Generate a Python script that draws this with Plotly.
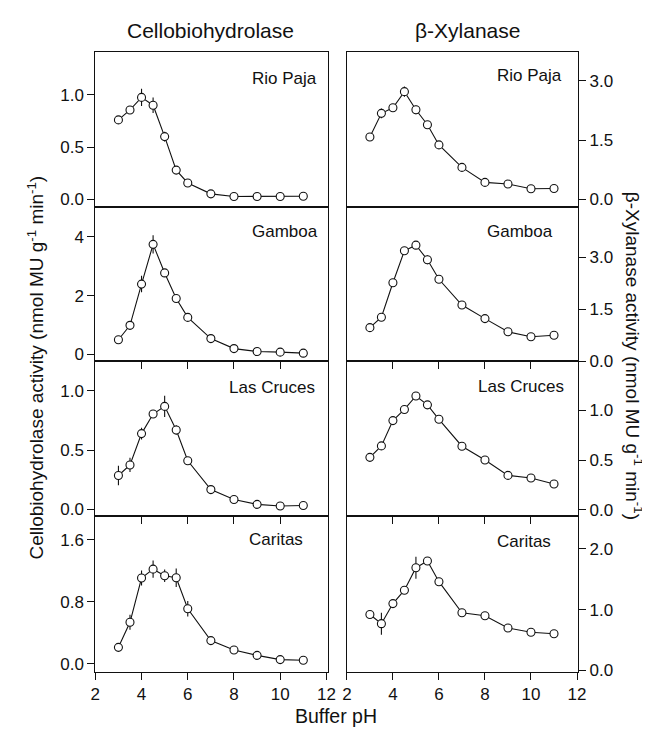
import plotly.graph_objects as go

W, H = 650, 732

ph = [3, 3.5, 4, 4.5, 5, 5.5, 6, 7, 8, 9, 10, 11]

sites = ["Rio Paja", "Gamboa", "Las Cruces", "Caritas"]

cbh_rio = [0.76, 0.855, 0.975, 0.90, 0.60, 0.28, 0.157, 0.053, 0.028, 0.028, 0.028, 0.03]
cbh_rio_err = [0.02, 0.03, 0.083, 0.075, 0.047, 0.02, 0.01, 0.005, 0, 0, 0, 0]
cbh_gam = [0.50, 0.99, 2.39, 3.74, 2.77, 1.90, 1.26, 0.54, 0.20, 0.10, 0.08, 0.045]
cbh_gam_err = [0.03, 0.05, 0.28, 0.31, 0.08, 0.1, 0.05, 0.03, 0.01, 0.01, 0.01, 0.01]
cbh_lc = [0.286, 0.375, 0.64, 0.805, 0.87, 0.67, 0.41, 0.167, 0.083, 0.042, 0.028, 0.033]
cbh_lc_err = [0.083, 0.06, 0.05, 0.03, 0.09, 0.04, 0.02, 0.01, 0.005, 0.005, 0.005, 0.005]
cbh_car = [0.213, 0.536, 1.106, 1.22, 1.136, 1.11, 0.71, 0.30, 0.179, 0.11, 0.055, 0.047]
cbh_car_err = [0.02, 0.096, 0.096, 0.11, 0.08, 0.12, 0.1, 0.02, 0.01, 0.01, 0.01, 0.01]

xyl_rio = [1.58, 2.18, 2.32, 2.73, 2.27, 1.89, 1.38, 0.81, 0.43, 0.39, 0.27, 0.275]
xyl_rio_err = [0.03, 0.125, 0.05, 0.13, 0.11, 0.05, 0.1, 0.03, 0.02, 0.02, 0.02, 0.02]
xyl_gam = [0.97, 1.27, 2.26, 3.18, 3.34, 2.92, 2.36, 1.62, 1.23, 0.85, 0.71, 0.75]
xyl_gam_err = [0.03, 0.03, 0.05, 0.09, 0.05, 0.13, 0.05, 0.03, 0.03, 0.02, 0.02, 0.02]
xyl_lc = [0.527, 0.642, 0.896, 1.008, 1.143, 1.054, 0.909, 0.639, 0.50, 0.346, 0.32, 0.26]
xyl_lc_err = [0.02, 0.02, 0.03, 0.03, 0.03, 0.03, 0.02, 0.02, 0.01, 0.01, 0.01, 0.01]
xyl_car = [0.92, 0.77, 1.10, 1.32, 1.69, 1.80, 1.46, 0.95, 0.90, 0.70, 0.63, 0.605]
xyl_car_err = [0.03, 0.18, 0.04, 0.06, 0.18, 0.04, 0.04, 0.03, 0.02, 0.02, 0.02, 0.02]

left_series = [(cbh_rio, cbh_rio_err), (cbh_gam, cbh_gam_err), (cbh_lc, cbh_lc_err), (cbh_car, cbh_car_err)]
right_series = [(xyl_rio, xyl_rio_err), (xyl_gam, xyl_gam_err), (xyl_lc, xyl_lc_err), (xyl_car, xyl_car_err)]

left_ranges = [[-0.075, 1.405], [-0.235, 5.0], [-0.056, 1.25], [-0.098, 1.905]]
right_ranges = [[-0.2, 3.725], [0.0, 4.43], [-0.061, 1.49], [-0.016, 2.54]]
left_ticks = [[0, 0.5, 1.0], [0, 2, 4], [0, 0.5, 1.0], [0, 0.8, 1.6]]
left_ticktext = [["0.0", "0.5", "1.0"], ["0", "2", "4"], ["0.0", "0.5", "1.0"], ["0.0", "0.8", "1.6"]]
right_ticks = [[0, 1.5, 3.0], [0, 1.5, 3.0], [0, 0.5, 1.0], [0, 1.0, 2.0]]
right_ticktext = [["0.0", "1.5", "3.0"], ["0.0", "1.5", "3.0"], ["0.0", "0.5", "1.0"], ["0.0", "1.0", "2.0"]]
x_ticks_bottom = [2, 4, 6, 8, 10, 12]
x_ticks_inner = [4, 6, 8, 10]

FONT = "Liberation Sans, Arial, Helvetica, sans-serif"
INK = "#111"

# panel geometry (pixels)
col_x = [(84, 321), (340.7, 576.7)]
row_y = [(45, 202), (202, 358.3), (358.3, 515), (515, 672.7)]

fig = go.Figure()
layout = dict(
    width=W, height=H,
    margin=dict(l=0, r=0, t=0, b=0),
    paper_bgcolor="white", plot_bgcolor="white",
    showlegend=False,
    font=dict(family=FONT, color=INK, size=17),
)

idx = 0
for c in range(2):
    for r in range(4):
        idx += 1
        xa = "x" if idx == 1 else f"x{idx}"
        ya = "y" if idx == 1 else f"y{idx}"
        vals, err = (left_series if c == 0 else right_series)[r]
        fig.add_trace(go.Scatter(
            x=ph, y=vals, xaxis=xa, yaxis=ya, mode="lines+markers",
            line=dict(color=INK, width=1.1),
            marker=dict(symbol="circle", size=8, color="white", line=dict(color=INK, width=1.1)),
            error_y=dict(type="data", array=err, visible=True, color=INK, thickness=1.1, width=0),
            cliponaxis=False,
        ))
        x0, x1 = col_x[c]
        y0, y1 = row_y[r]
        xkey = "xaxis" if idx == 1 else f"xaxis{idx}"
        ykey = "yaxis" if idx == 1 else f"yaxis{idx}"
        xax = dict(
            domain=[x0 / W, x1 / W], anchor=ya, range=[2, 12.05],
            showgrid=False, zeroline=False, showline=True, linecolor=INK, linewidth=1,
            mirror=True, ticks="outside", ticklen=7, tickwidth=1, tickcolor=INK,
            tickfont=dict(size=17, family=FONT, color=INK),
        )
        if r == 3:
            xax.update(tickvals=x_ticks_bottom, showticklabels=True)
        elif r == 0:
            xax.update(tickvals=[], showticklabels=False, ticks="")
        else:
            xax.update(tickvals=x_ticks_inner, showticklabels=False)
        yax = dict(
            domain=[1 - y1 / H, 1 - y0 / H], anchor=xa,
            range=(left_ranges if c == 0 else right_ranges)[r],
            tickvals=(left_ticks if c == 0 else right_ticks)[r],
            ticktext=(left_ticktext if c == 0 else right_ticktext)[r],
            side="left" if c == 0 else "right",
            showgrid=False, zeroline=False, showline=True, linecolor=INK, linewidth=1,
            mirror=True, ticks="outside", ticklen=7, tickwidth=1, tickcolor=INK,
            tickfont=dict(size=17, family=FONT, color=INK),
        )
        layout[xkey] = xax
        layout[ykey] = yax

annotations = []
label_pos = [
    [(312, 71.7), (313, 227), (310, 385), (298, 539)],
    [(562, 68), (553, 227), (564, 384), (551, 541)],
]
for c in range(2):
    for r in range(4):
        px, py = label_pos[c][r]
        annotations.append(dict(
            x=px / W, y=1 - py / H, xref="paper", yref="paper", text=sites[r],
            showarrow=False, xanchor="right", yanchor="middle",
            font=dict(size=17, family=FONT, color=INK),
        ))

annotations += [
    dict(x=201.7 / W, y=1 - 23 / H, xref="paper", yref="paper", text="Cellobiohydrolase",
         showarrow=False, xanchor="center", yanchor="middle", font=dict(size=21, family=FONT, color=INK)),
    dict(x=464 / W, y=1 - 23 / H, xref="paper", yref="paper", text="β-Xylanase",
         showarrow=False, xanchor="center", yanchor="middle", font=dict(size=21, family=FONT, color=INK)),
    dict(x=330 / W, y=1 - 718 / H, xref="paper", yref="paper", text="Buffer pH",
         showarrow=False, xanchor="center", yanchor="middle", font=dict(size=19.5, family=FONT, color=INK)),
    dict(x=23 / W, y=1 - 365 / H, xref="paper", yref="paper",
         text="Cellobiohydrolase activity (nmol MU g<sup>-1</sup> min<sup>-1</sup>)",
         textangle=-90, showarrow=False, xanchor="center", yanchor="middle",
         font=dict(size=19, family=FONT, color=INK)),
    dict(x=633 / W, y=1 - 353 / H, xref="paper", yref="paper",
         text="β-Xylanase activity (nmol MU g<sup>-1</sup> min<sup>-1</sup>)",
         textangle=90, showarrow=False, xanchor="center", yanchor="middle",
         font=dict(size=19, family=FONT, color=INK)),
]
layout["annotations"] = annotations

fig.update_layout(**layout)
fig.write_html("out.html")
